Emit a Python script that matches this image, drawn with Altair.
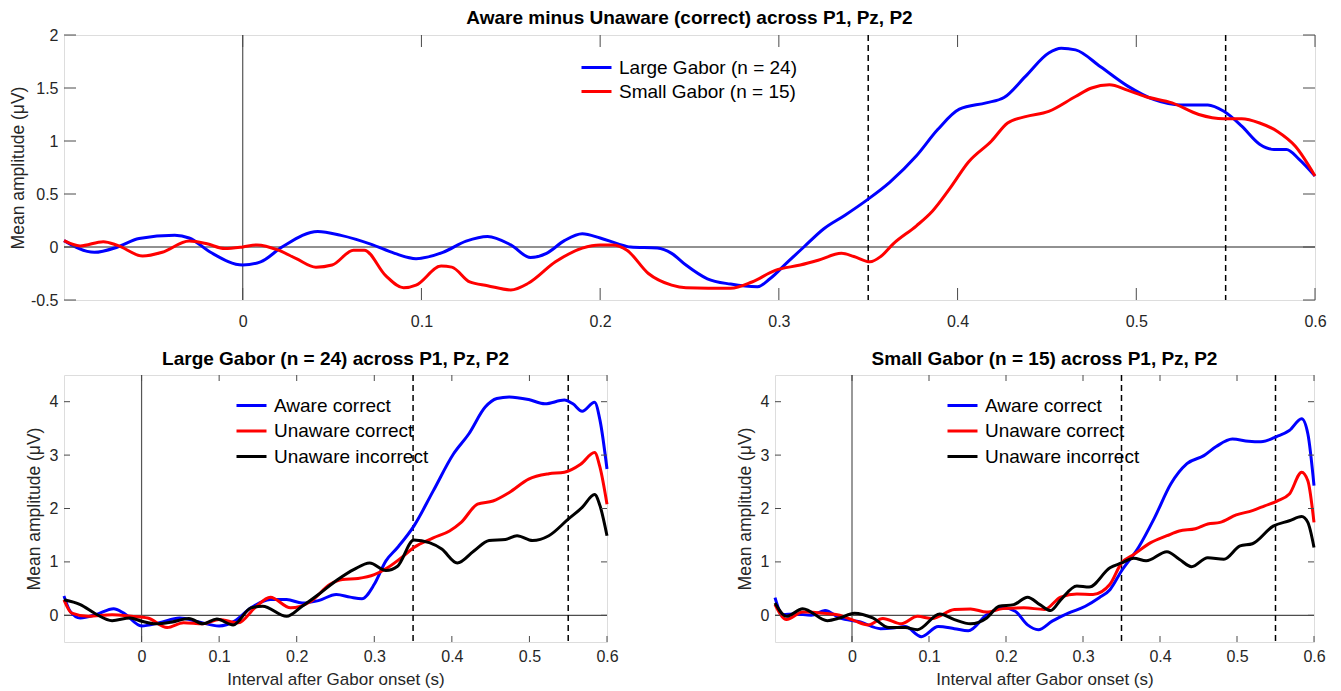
import altair as alt
import pandas as pd

# ---------------- data ----------------
# Top panel: Aware minus Unaware (correct)
top_large_t = [-0.1, -0.083, -0.07, -0.058, -0.038, -0.03, -0.018, 0, 0.01, 0.022, 0.042, 0.055, 0.072, 0.085,
               0.097, 0.112, 0.125, 0.137, 0.15, 0.161, 0.17, 0.18, 0.19, 0.2, 0.21, 0.217, 0.232, 0.24, 0.248,
               0.26, 0.273, 0.288, 0.295, 0.305, 0.314, 0.325, 0.337, 0.349, 0.362, 0.377, 0.389, 0.401, 0.416,
               0.426, 0.438, 0.451, 0.458, 0.466, 0.48, 0.495, 0.51, 0.525, 0.54, 0.549, 0.559, 0.569, 0.577,
               0.584, 0.591, 0.6]
top_large_v = [0.06, -0.05, 0.0, 0.08, 0.11, 0.085, -0.05, -0.17, -0.14, 0.0, 0.147, 0.11, 0.025, -0.06,
               -0.11, -0.05, 0.056, 0.10, 0.02, -0.10, -0.06, 0.06, 0.125, 0.085, 0.03, 0.0, -0.01, -0.06, -0.17,
               -0.30, -0.35, -0.375, -0.30, -0.14, 0.0, 0.17, 0.30, 0.44, 0.61, 0.86, 1.11, 1.30, 1.36,
               1.41, 1.61, 1.83, 1.875, 1.86, 1.70, 1.52, 1.39, 1.34, 1.34, 1.28, 1.14, 0.97, 0.92,
               0.92, 0.83, 0.67]
top_small_t = [-0.1, -0.091, -0.078, -0.07, -0.056, -0.045, -0.03, -0.02, -0.01, 0, 0.008, 0.02, 0.03, 0.041,
               0.05, 0.062, 0.068, 0.08, 0.09, 0.097, 0.111, 0.117, 0.127, 0.137, 0.15, 0.16, 0.175, 0.19, 0.2,
               0.207, 0.215, 0.227, 0.24, 0.248, 0.273, 0.285, 0.298, 0.312, 0.322, 0.335, 0.342, 0.351, 0.357,
               0.364, 0.377, 0.386, 0.396, 0.406, 0.419, 0.428, 0.438, 0.451, 0.466, 0.475, 0.485, 0.495, 0.505,
               0.52, 0.535, 0.549, 0.559, 0.569, 0.579, 0.589, 0.6]
top_small_v = [0.06, 0.01, 0.05, 0.015, -0.085, -0.05, 0.056, 0.03, -0.015, 0.0, 0.02, -0.03, -0.11, -0.19,
               -0.17, -0.03, -0.03, -0.27, -0.385, -0.36, -0.18, -0.19, -0.33, -0.365, -0.405, -0.34, -0.14, -0.01, 0.02,
               0.02, -0.03, -0.25, -0.36, -0.385, -0.39, -0.33, -0.22, -0.17, -0.125, -0.06, -0.09, -0.14, -0.09,
               0.03, 0.20, 0.34, 0.56, 0.80, 1.0, 1.17, 1.23, 1.28, 1.42, 1.50, 1.53, 1.48, 1.42,
               1.36, 1.25, 1.21, 1.21, 1.17, 1.09, 0.95, 0.67]

# Bottom-left: Large Gabor
bl_aware_t = [-0.1, -0.092, -0.079, -0.059, -0.036, -0.023, 0, 0.023, 0.049, 0.074, 0.1, 0.12, 0.141, 0.166,
              0.187, 0.207, 0.228, 0.251, 0.269, 0.284, 0.3, 0.315, 0.33, 0.351, 0.376, 0.402, 0.422, 0.443,
              0.458, 0.474, 0.499, 0.52, 0.545, 0.556, 0.568, 0.584, 0.591, 0.6]
bl_aware_v = [0.36, 0.075, -0.05, 0.01, 0.125, 0.04, -0.2, -0.14, -0.05, -0.125, -0.2, -0.11, 0.14, 0.295,
              0.295, 0.23, 0.275, 0.39, 0.34, 0.31, 0.58, 1.02, 1.27, 1.67, 2.33, 3.02, 3.40, 3.90,
              4.06, 4.09, 4.04, 3.96, 4.03, 3.96, 3.82, 3.99, 3.65, 2.74]
bl_ucor_t = [-0.1, -0.09, -0.069, -0.038, -0.013, 0.008, 0.033, 0.054, 0.079, 0.1, 0.125, 0.146, 0.166, 0.192,
             0.218, 0.243, 0.259, 0.279, 0.3, 0.317, 0.335, 0.351, 0.376, 0.397, 0.412, 0.433, 0.453, 0.474,
             0.499, 0.525, 0.545, 0.566, 0.584, 0.591, 0.6]
bl_ucor_v = [0.29, 0.04, -0.02, 0.01, -0.02, -0.05, -0.23, -0.14, -0.16, -0.08, -0.14, 0.14, 0.34, 0.14,
             0.26, 0.58, 0.67, 0.69, 0.76, 0.89, 1.08, 1.27, 1.45, 1.58, 1.74, 2.08, 2.14, 2.30,
             2.55, 2.65, 2.68, 2.83, 3.05, 2.77, 2.08]
bl_uinc_t = [-0.1, -0.079, -0.059, -0.038, -0.015, 0, 0.018, 0.038, 0.061, 0.079, 0.097, 0.118, 0.141, 0.156,
             0.187, 0.207, 0.228, 0.253, 0.274, 0.294, 0.315, 0.33, 0.351, 0.371, 0.387, 0.407, 0.428, 0.448,
             0.469, 0.484, 0.504, 0.525, 0.55, 0.568, 0.584, 0.591, 0.6]
bl_uinc_v = [0.29, 0.2, 0.025, -0.1, -0.05, -0.11, -0.16, -0.13, -0.06, -0.16, -0.07, -0.18, 0.14, 0.17,
             -0.02, 0.17, 0.39, 0.67, 0.86, 0.98, 0.84, 0.92, 1.41, 1.36, 1.24, 0.98, 1.20, 1.40,
             1.42, 1.49, 1.40, 1.49, 1.80, 2.02, 2.26, 2.05, 1.49]

# Bottom-right: Small Gabor
br_aware_t = [-0.1, -0.09, -0.074, -0.053, -0.035, -0.016, 0.011, 0.037, 0.053, 0.069, 0.09, 0.112, 0.133, 0.151,
              0.175, 0.196, 0.212, 0.228, 0.242, 0.26, 0.281, 0.303, 0.321, 0.335, 0.35, 0.372, 0.393, 0.414,
              0.435, 0.457, 0.473, 0.494, 0.515, 0.531, 0.552, 0.568, 0.584, 0.592, 0.6]
br_aware_v = [0.33, 0.01, 0.025, 0.0, 0.09, -0.05, -0.125, -0.25, -0.24, -0.21, -0.40, -0.21, -0.25, -0.29,
              0.01, 0.14, 0.075, -0.18, -0.27, -0.11, 0.04, 0.17, 0.33, 0.48, 0.83, 1.27, 1.83, 2.46,
              2.84, 2.99, 3.16, 3.30, 3.26, 3.25, 3.35, 3.46, 3.68, 3.40, 2.43]
br_ucor_t = [-0.1, -0.085, -0.064, -0.037, -0.016, 0.003, 0.021, 0.04, 0.064, 0.085, 0.104, 0.133, 0.154, 0.175,
             0.196, 0.223, 0.25, 0.271, 0.292, 0.313, 0.335, 0.35, 0.366, 0.388, 0.409, 0.425, 0.446, 0.462,
             0.478, 0.499, 0.52, 0.536, 0.552, 0.568, 0.584, 0.592, 0.6]
br_ucor_v = [0.2, -0.08, 0.06, 0.04, 0.0, -0.1, -0.18, -0.06, -0.16, -0.02, -0.06, 0.11, 0.12, 0.06,
             0.125, 0.14, 0.11, 0.34, 0.40, 0.39, 0.58, 0.98, 1.14, 1.36, 1.49, 1.58, 1.62, 1.71,
             1.74, 1.88, 1.96, 2.05, 2.14, 2.27, 2.68, 2.52, 1.74]
br_uinc_t = [-0.1, -0.085, -0.064, -0.032, -0.016, 0.003, 0.027, 0.048, 0.069, 0.085, 0.114, 0.133, 0.154, 0.175,
             0.191, 0.21, 0.228, 0.244, 0.258, 0.271, 0.292, 0.308, 0.335, 0.35, 0.366, 0.382, 0.409, 0.425,
             0.441, 0.462, 0.483, 0.504, 0.52, 0.547, 0.568, 0.584, 0.592, 0.6]
br_uinc_v = [0.23, -0.02, 0.125, -0.1, -0.05, 0.04, -0.05, -0.23, -0.23, -0.27, 0.025, -0.08, -0.16, -0.05,
             0.17, 0.2, 0.34, 0.2, 0.09, 0.29, 0.55, 0.53, 0.89, 0.98, 1.07, 1.02, 1.19, 1.05,
             0.91, 1.08, 1.05, 1.30, 1.34, 1.67, 1.77, 1.85, 1.74, 1.27]

top_names = ["Large Gabor (n = 24)", "Small Gabor (n = 15)"]
top_colors = ["#0000ff", "#ff0000"]
cond_names = ["Aware correct", "Unaware correct", "Unaware incorrect"]
cond_colors = ["#0000ff", "#ff0000", "#000000"]

x_ticks = [0, 0.1, 0.2, 0.3, 0.4, 0.5, 0.6]
top_y_ticks = [-0.5, 0, 0.5, 1, 1.5, 2]
bot_y_ticks = [0, 1, 2, 3, 4]
window_lines = [0.35, 0.55]

top_title = "Aware minus Unaware (correct) across P1, Pz, P2"
bl_title = "Large Gabor (n = 24) across P1, Pz, P2"
br_title = "Small Gabor (n = 15) across P1, Pz, P2"
y_title = "Mean amplitude (\u03bcV)"
x_title = "Interval after Gabor onset (s)"

# ---------------- build ----------------
FONT = "Liberation Sans"
AX = "#4a4a4a"
TXT = "#262626"


def series_df(pairs):
    rows = []
    for name, ts, vs in pairs:
        for t, v in zip(ts, vs):
            rows.append({"t": t, "v": v, "s": name})
    return pd.DataFrame(rows)


def panel(df, names, colors, ydom, yticks, W, H, title, xtitle, tick_len, leg_x, leg_y, leg_pad, xlab_pad,
          ytitle_pad, title_off):
    xs = alt.Scale(domain=[-0.1, 0.6], nice=False, zero=False)
    ys = alt.Scale(domain=ydom, nice=False, zero=False)
    xaxis = alt.Axis(values=x_ticks, labelExpr="'' + datum.value", ticks=False, tickSize=0, domain=False,
                     grid=False, labelPadding=xlab_pad, labelFontSize=16, labelFont=FONT, labelColor=TXT,
                     titleFontSize=17, titleFont=FONT, titleFontWeight="normal", titleColor=TXT,
                     titlePadding=7, labelFlush=False)
    yaxis = alt.Axis(values=yticks, labelExpr="'' + datum.value", ticks=False, tickSize=0, domain=False,
                     grid=False, labelPadding=6, labelFontSize=16, labelFont=FONT, labelColor=TXT,
                     titleFontSize=17.5, titleFont=FONT, titleFontWeight="normal", titleColor=TXT,
                     titlePadding=ytitle_pad)
    X = alt.X("t:Q", scale=xs, axis=xaxis, title=xtitle)
    Y = alt.Y("v:Q", scale=ys, axis=yaxis, title=y_title)

    xt_df = pd.DataFrame({"t": x_ticks})
    yt_df = pd.DataFrame({"v": yticks})
    base_x = alt.Chart(xt_df)
    base_y = alt.Chart(yt_df)

    xt_bottom = base_x.mark_rule(color=AX, strokeWidth=1).encode(x=X, y=alt.value(H), y2=alt.value(H - tick_len))
    xt_top = base_x.mark_rule(color=AX, strokeWidth=1).encode(x=X, y=alt.value(0), y2=alt.value(tick_len))
    yt_left = base_y.mark_rule(color=AX, strokeWidth=1).encode(y=Y, x=alt.value(0), x2=alt.value(tick_len))
    yt_right = base_y.mark_rule(color=AX, strokeWidth=1).encode(y=Y, x=alt.value(W - tick_len), x2=alt.value(W))

    zero_h = alt.Chart(pd.DataFrame({"v": [0]})).mark_rule(color="#222222", strokeWidth=1).encode(y=Y)
    zero_v = alt.Chart(pd.DataFrame({"t": [0]})).mark_rule(color="#555555", strokeWidth=1.2).encode(x=X)
    dashed = alt.Chart(pd.DataFrame({"t": window_lines})).mark_rule(
        color="#000000", strokeWidth=1.5, strokeDash=[6, 4]).encode(x=X)

    lines = alt.Chart(df).mark_line(strokeWidth=3, interpolate="monotone").encode(
        x=X, y=Y,
        color=alt.Color("s:N", sort=names, scale=alt.Scale(domain=names, range=colors),
                        legend=alt.Legend(orient="none", legendX=leg_x, legendY=leg_y, title=None,
                                          symbolType="M-1.5,0H1.5", symbolSize=400, symbolStrokeWidth=3,
                                          labelFontSize=19, labelFont=FONT, labelColor="#000000",
                                          labelOffset=11, rowPadding=leg_pad, padding=0, labelLimit=400)),
        detail="s:N",
    )
    return alt.layer(zero_h, zero_v, dashed, lines, xt_bottom, xt_top, yt_left, yt_right).properties(
        width=W, height=H,
        title=alt.TitleParams(title, fontSize=19, font=FONT, fontWeight="bold", color="#000000",
                              anchor="middle", offset=title_off),
    )


top_df = series_df([(top_names[0], top_large_t, top_large_v), (top_names[1], top_small_t, top_small_v)])
bl_df = series_df([(cond_names[0], bl_aware_t, bl_aware_v), (cond_names[1], bl_ucor_t, bl_ucor_v),
                   (cond_names[2], bl_uinc_t, bl_uinc_v)])
br_df = series_df([(cond_names[0], br_aware_t, br_aware_v), (cond_names[1], br_ucor_t, br_ucor_v),
                   (cond_names[2], br_uinc_t, br_uinc_v)])

top = panel(top_df, top_names, top_colors, [-0.5, 2], top_y_ticks, 1251, 265, top_title, None, 12,
            521, 21, 2, 13, 3, -1)
bl = panel(bl_df, cond_names, cond_colors, [-0.5, 4.5], bot_y_ticks, 543, 267, bl_title, x_title, 6,
           176, 19, 3.5, 6, 6, 5)
br = panel(br_df, cond_names, cond_colors, [-0.5, 4.5], bot_y_ticks, 539, 267, br_title, x_title, 6,
           176, 19, 3.5, 6, 6, 5)

bottom = alt.hconcat(bl, br, spacing=168, bounds="flush").resolve_scale(color="independent").resolve_legend(
    color="independent")
chart = alt.vconcat(top, bottom, spacing=75, bounds="flush").resolve_scale(color="independent").resolve_legend(
    color="independent").properties(padding={"left": 0, "top": 0, "right": 5, "bottom": 0}).configure_view(
    stroke=AX, strokeWidth=1).configure(background="#ffffff")

chart.save("out.html", embed_options={"renderer": "svg", "actions": False})
